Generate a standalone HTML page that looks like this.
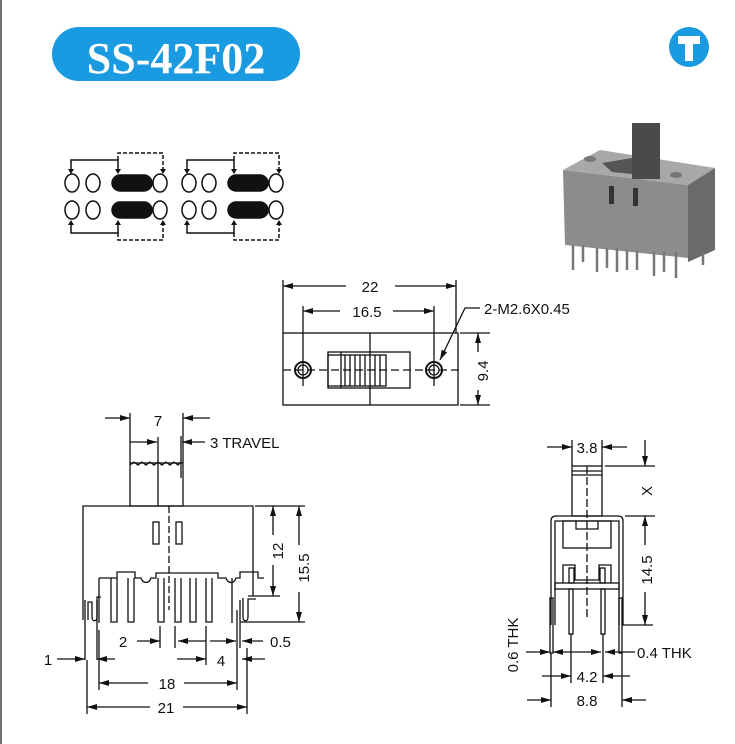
<!DOCTYPE html>
<html><head><meta charset="utf-8"><style>
html,body{margin:0;padding:0;background:#fff;}
svg{display:block;}
text{font-family:"Liberation Sans",Arial,sans-serif;fill:#111;}
</style></head><body>
<svg width="735" height="744" viewBox="0 0 735 744" xmlns="http://www.w3.org/2000/svg">
<defs>
<marker id="a" viewBox="0 0 10 6" refX="10" refY="3" markerWidth="10" markerHeight="6" orient="auto-start-reverse" markerUnits="userSpaceOnUse"><path d="M0,0L10,3L0,6z" fill="#111"/></marker>
</defs>
<line x1="1" y1="0" x2="1" y2="744" stroke="#444" stroke-width="1.5"/>
<!-- header -->
<rect x="52" y="27" width="248" height="54" rx="27" fill="#1a9ae0"/>
<text x="176" y="73" text-anchor="middle" font-weight="bold" font-size="44" style="font-family:'Liberation Serif',serif;fill:#fff">SS-42F02</text>
<circle cx="689" cy="47" r="20" fill="#1a9ae0"/>
<path d="M678,36h22v8h-7v17h-8v-17h-7z" fill="#fff"/>

<!-- schematic -->
<g stroke="#111" stroke-width="1.5" fill="none">
<ellipse cx="72" cy="183" rx="7" ry="9"/><ellipse cx="93" cy="183" rx="7" ry="9"/><rect x="112" y="175" width="40" height="16" rx="8" fill="#111"/><ellipse cx="160" cy="183" rx="7" ry="9"/>
<ellipse cx="189" cy="183" rx="7" ry="9"/><ellipse cx="209" cy="183" rx="7" ry="9"/><rect x="228" y="175" width="40" height="16" rx="8" fill="#111"/><ellipse cx="276" cy="183" rx="7" ry="9"/>
<ellipse cx="72" cy="210" rx="7" ry="9"/><ellipse cx="93" cy="210" rx="7" ry="9"/><rect x="112" y="202" width="40" height="16" rx="8" fill="#111"/><ellipse cx="160" cy="210" rx="7" ry="9"/>
<ellipse cx="189" cy="210" rx="7" ry="9"/><ellipse cx="209" cy="210" rx="7" ry="9"/><rect x="228" y="202" width="40" height="16" rx="8" fill="#111"/><ellipse cx="276" cy="210" rx="7" ry="9"/>
<path d="M71,172V160H118V172"/><path d="M118,160V153H163V172" stroke-dasharray="4,2"/>
<path d="M187,172V160H234V172"/><path d="M234,160V153H279V172" stroke-dasharray="4,2"/>
<path d="M71,222V233H118V222"/><path d="M118,233V240H163V222" stroke-dasharray="4,2"/>
<path d="M187,222V233H234V222"/><path d="M234,233V240H279V222" stroke-dasharray="4,2"/>
</g>
<g fill="#111">
<path d="M68,169h6l-3,5z M115,169h6l-3,5z M160,169h6l-3,5z M184,169h6l-3,5z M231,169h6l-3,5z M276,169h6l-3,5z"/>
<path d="M68,225h6l-3,-5z M115,225h6l-3,-5z M160,225h6l-3,-5z M184,225h6l-3,-5z M231,225h6l-3,-5z M276,225h6l-3,-5z"/>
</g>

<!-- photo -->
<g>
<polygon points="563,170 688,185 688,258 565,245" fill="#8c8c8c"/>
<polygon points="563,170 600,150 715,168 688,185" fill="#a8a8a8"/>
<polygon points="688,185 715,168 715,250 688,262" fill="#6a6a6a"/>
<rect x="632" y="123" width="28" height="56" fill="#4a4a4a"/>
<polygon points="602,163 632,158 632,174 612,172" fill="#555"/>
<rect x="609" y="186" width="5" height="18" fill="#333"/><rect x="633" y="188" width="5" height="18" fill="#333"/>
<ellipse cx="590" cy="159" rx="6" ry="3" fill="#777"/><ellipse cx="676" cy="175" rx="6" ry="3" fill="#777"/>
<g stroke="#777" stroke-width="2.5"><line x1="573" y1="245" x2="573" y2="270"/><line x1="583" y1="245" x2="583" y2="262"/><line x1="597" y1="248" x2="597" y2="272"/><line x1="607" y1="248" x2="607" y2="268"/><line x1="617" y1="248" x2="617" y2="272"/><line x1="627" y1="250" x2="627" y2="270"/><line x1="637" y1="250" x2="637" y2="270"/><line x1="654" y1="252" x2="654" y2="276"/><line x1="664" y1="252" x2="664" y2="272"/><line x1="676" y1="252" x2="676" y2="278"/><line x1="703" y1="252" x2="703" y2="265"/></g>
</g>

<!-- top view -->
<g stroke="#111" stroke-width="1.3" fill="none">
<rect x="283" y="333" width="175" height="72"/>
<line x1="370" y1="333" x2="370" y2="405"/>
<line x1="283" y1="370" x2="460" y2="370" stroke-dasharray="8,4"/>
<circle cx="303" cy="370" r="8" stroke-width="2"/><circle cx="303" cy="370" r="5"/>
<circle cx="434" cy="370" r="8" stroke-width="2"/><circle cx="434" cy="370" r="5"/>
<rect x="328" y="352" width="82" height="36"/>
<rect x="328" y="355" width="58" height="31"/>
<path d="M341,352v36M345,355v31M350,355v31M355,355v31M360,355v31M365,355v31M375,355v31M380,355v31"/>
<line x1="283" y1="280" x2="283" y2="333"/><line x1="456" y1="280" x2="456" y2="333"/>
<line x1="303" y1="306" x2="303" y2="386"/><line x1="434" y1="306" x2="434" y2="386"/>
<line x1="283" y1="286" x2="346" y2="286" marker-start="url(#a)"/><line x1="395" y1="286" x2="456" y2="286" marker-end="url(#a)"/>
<line x1="303" y1="311" x2="340" y2="311" marker-start="url(#a)"/><line x1="393" y1="311" x2="434" y2="311" marker-end="url(#a)"/>
<path d="M480,308H465L440,360" marker-end="url(#a)"/>
<line x1="460" y1="333" x2="490" y2="333"/><line x1="460" y1="405" x2="490" y2="405"/>
<line x1="478" y1="333" x2="478" y2="352" marker-start="url(#a)"/><line x1="478" y1="390" x2="478" y2="405" marker-end="url(#a)"/>
</g>
<text x="370" y="292" text-anchor="middle" font-size="15">22</text>
<text x="367" y="317" text-anchor="middle" font-size="15">16.5</text>
<text x="484" y="314" font-size="15">2-M2.6X0.45</text>
<text transform="translate(488,371) rotate(-90)" text-anchor="middle" font-size="15">9.4</text>

<!-- front view -->
<g stroke="#111" stroke-width="1.3" fill="none">
<path d="M83,620V506H253V596"/>
<rect x="130" y="463" width="53" height="43"/>
<line x1="158" y1="437" x2="158" y2="506"/>
<path d="M130,465l4,-3l4,3l4,-3l4,3l4,-3l4,3l4,-3l4,3l4,-3l4,3l4,-3l4,3l3,-3"/>
<line x1="181" y1="436" x2="181" y2="478"/>
<line x1="130" y1="413" x2="130" y2="463"/><line x1="183" y1="413" x2="183" y2="463"/>
<line x1="105" y1="418" x2="130" y2="418" marker-end="url(#a)"/><line x1="210" y1="418" x2="183" y2="418" marker-end="url(#a)"/>
<line x1="130" y1="442" x2="157" y2="442" marker-end="url(#a)"/><line x1="205" y1="442" x2="182" y2="442" marker-end="url(#a)"/>
<rect x="153" y="522" width="6" height="22"/><rect x="176" y="522" width="6" height="22"/>
<line x1="169" y1="506" x2="169" y2="610" stroke-dasharray="7,3"/>
<path d="M99,578h18v-6h18v6l6,0c2,6 8,6 10,0l5,0v-5h62v5h8c2,6 8,6 10,0h4v-6h18v6h6"/>
<path d="M99,578v45M232,578v45"/>
<path d="M111,578v44h6v-44M128,578v44h6v-44M158,578v44h6v-44M175,578v44h6v-44M190,578v44h6v-44M206,578v44h6v-44"/>
<path d="M88,620v-18h4v15c0,5 5,5 5,0v-20h4"/>
<path d="M243,598v19c0,5 5,5 5,0v-18h8"/>
<path d="M240,600v48M237,610v38M85,600v60M97,600v60"/>
<line x1="255" y1="506" x2="305" y2="506"/><line x1="248" y1="596" x2="280" y2="596"/><line x1="240" y1="622" x2="305" y2="622"/>
<line x1="273" y1="506" x2="273" y2="535" marker-start="url(#a)"/><line x1="273" y1="565" x2="273" y2="596" marker-end="url(#a)"/>
<line x1="299" y1="506" x2="299" y2="545" marker-start="url(#a)"/><line x1="299" y1="592" x2="299" y2="622" marker-end="url(#a)"/>
<line x1="160" y1="626" x2="160" y2="648"/><line x1="175" y1="626" x2="175" y2="648"/><line x1="206" y1="626" x2="206" y2="665"/>
<line x1="137" y1="641" x2="160" y2="641" marker-end="url(#a)"/>
<line x1="178" y1="641" x2="206" y2="641" marker-start="url(#a)"/><line x1="210" y1="641" x2="236" y2="641" marker-end="url(#a)"/>
<line x1="263" y1="641" x2="242" y2="641" marker-end="url(#a)"/>
<line x1="57" y1="659" x2="85" y2="659" marker-end="url(#a)"/><line x1="115" y1="659" x2="97" y2="659" marker-end="url(#a)"/>
<line x1="177" y1="659" x2="206" y2="659" marker-end="url(#a)"/><line x1="265" y1="659" x2="242" y2="659" marker-end="url(#a)"/>
<line x1="99" y1="630" x2="99" y2="690"/><line x1="237" y1="648" x2="237" y2="690"/>
<line x1="87" y1="660" x2="87" y2="714"/><line x1="247" y1="648" x2="247" y2="714"/>
<line x1="99" y1="683" x2="148" y2="683" marker-start="url(#a)"/><line x1="184" y1="683" x2="237" y2="683" marker-end="url(#a)"/>
<line x1="87" y1="707" x2="150" y2="707" marker-start="url(#a)"/><line x1="183" y1="707" x2="247" y2="707" marker-end="url(#a)"/>
</g>
<text x="158" y="426" text-anchor="middle" font-size="15">7</text>
<text x="210" y="448" font-size="15">3 TRAVEL</text>
<text transform="translate(283,551) rotate(-90)" text-anchor="middle" font-size="15">12</text>
<text transform="translate(309,568) rotate(-90)" text-anchor="middle" font-size="15">15.5</text>
<text x="123" y="647" text-anchor="middle" font-size="15">2</text>
<text x="270" y="647" font-size="15">0.5</text>
<text x="48" y="665" text-anchor="middle" font-size="15">1</text>
<text x="221" y="666" text-anchor="middle" font-size="15">4</text>
<text x="167" y="689" text-anchor="middle" font-size="15">18</text>
<text x="166" y="713" text-anchor="middle" font-size="15">21</text>

<!-- side view -->
<g stroke="#111" stroke-width="1.3" fill="none">
<rect x="572" y="466" width="30" height="50"/>
<path d="M572,471h30M572,475h30"/>
<line x1="587" y1="466" x2="587" y2="620" stroke-dasharray="8,3"/>
<path d="M551,625V521q0,-5 5,-5h62q5,0 5,5V625h30"/>
<path d="M555,625V521h64V625"/>
<rect x="563" y="521" width="48" height="27"/><path d="M576,521v8h22v-8"/>
<path d="M563,583v-18h12v15h24v-15h12v18"/><rect x="569" y="568" width="5" height="15"/><rect x="600" y="568" width="5" height="15"/>
<rect x="555" y="583" width="64" height="6"/>
<rect x="569" y="589" width="4" height="45"/><rect x="601" y="589" width="4" height="45"/>
<rect x="550" y="598" width="3" height="55"/><rect x="619" y="598" width="3" height="55"/>
<line x1="572" y1="440" x2="572" y2="466"/><line x1="602" y1="440" x2="602" y2="466"/>
<line x1="547" y1="447" x2="572" y2="447" marker-end="url(#a)"/><line x1="627" y1="447" x2="602" y2="447" marker-end="url(#a)"/>
<line x1="605" y1="466" x2="655" y2="466"/><line x1="645" y1="440" x2="645" y2="466" marker-end="url(#a)"/>
<line x1="625" y1="516" x2="655" y2="516"/>
<line x1="645" y1="516" x2="645" y2="545" marker-start="url(#a)"/><line x1="645" y1="592" x2="645" y2="625" marker-end="url(#a)"/>
<line x1="526" y1="652" x2="550" y2="652" marker-end="url(#a)"/><line x1="553" y1="652" x2="571" y2="652" marker-start="url(#a)"/>
<line x1="571" y1="652" x2="601" y2="652" marker-end="url(#a)"/><line x1="635" y1="652" x2="605" y2="652" marker-end="url(#a)"/>
<line x1="571" y1="634" x2="571" y2="683"/><line x1="603" y1="634" x2="603" y2="683"/>
<line x1="551" y1="653" x2="551" y2="707"/><line x1="622" y1="653" x2="622" y2="707"/>
<line x1="542" y1="676" x2="571" y2="676" marker-end="url(#a)"/><line x1="630" y1="676" x2="603" y2="676" marker-end="url(#a)"/>
<line x1="527" y1="700" x2="551" y2="700" marker-end="url(#a)"/><line x1="646" y1="700" x2="622" y2="700" marker-end="url(#a)"/>
</g>
<text x="587" y="453" text-anchor="middle" font-size="15">3.8</text>
<text transform="translate(652,491) rotate(-90)" text-anchor="middle" font-size="15">X</text>
<text transform="translate(652,570) rotate(-90)" text-anchor="middle" font-size="15">14.5</text>
<text transform="translate(518,645) rotate(-90)" text-anchor="middle" font-size="15">0.6 THK</text>
<text x="637" y="658" font-size="15">0.4 THK</text>
<text x="587" y="682" text-anchor="middle" font-size="15">4.2</text>
<text x="587" y="706" text-anchor="middle" font-size="15">8.8</text>
</svg>
</body></html>
